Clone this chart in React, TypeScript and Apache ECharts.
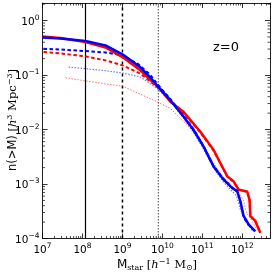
import React, { useEffect, useRef } from "react";
import * as echarts from "echarts";

// ---- data (stellar mass in h^-1 Msun, cumulative number density in h^3 Mpc^-3) ----
const massMin = 1e7;
const massMax = 4.9e12;
const nMin = 1e-4;
const nMax = 2.1;

const solidRed: [number, number][] = [
  [1e7, 0.51], [2.8e7, 0.48], [1.19e8, 0.405], [3.76e8, 0.32], [1e9, 0.214],
  [2.8e9, 0.122], [7.9e9, 0.0597], [1.58e10, 0.0323], [3.4e10, 0.0209],
  [8.9e10, 0.0091], [1.9e11, 0.00423], [3.1e11, 0.0021], [4.2e11, 0.00138],
  [6e11, 0.00112], [8.1e11, 0.000785], [1.32e12, 0.00073], [1.51e12, 0.00051],
  [1.58e12, 0.000257], [2.1e12, 0.00021], [2.8e12, 0.000127],
];
const solidBlue: [number, number][] = [
  [1e7, 0.49], [2.8e7, 0.47], [1.19e8, 0.42], [3.76e8, 0.35], [1e9, 0.24],
  [2.8e9, 0.139], [5e9, 0.09], [7.9e9, 0.0605], [1.58e10, 0.0346], [3.4e10, 0.0171],
  [6e10, 0.0098], [1.07e11, 0.00485], [1.9e11, 0.0021], [3.4e11, 0.0012],
  [5.5e11, 0.00085], [7.4e11, 0.00074], [8.9e11, 0.00048], [1.07e12, 0.00026],
  [1.45e12, 0.00018], [2.1e12, 0.000135],
];
const dashedRed: [number, number][] = [
  [1.06e7, 0.264], [2.8e7, 0.25], [1.19e8, 0.22], [3.76e8, 0.186], [1e9, 0.151],
  [2.8e9, 0.106], [7.4e9, 0.0605], [1.58e10, 0.0346], [3.4e10, 0.02],
  [8.9e10, 0.0088], [1.9e11, 0.0041], [3.1e11, 0.0021], [4.2e11, 0.00136],
  [6e11, 0.0011], [8.1e11, 0.00078], [1.32e12, 0.00072], [1.51e12, 0.0005],
  [1.58e12, 0.00026], [2.1e12, 0.00021], [2.8e12, 0.000127],
];
const dashedBlue: [number, number][] = [
  [1.06e7, 0.304], [2.8e7, 0.295], [1.19e8, 0.275], [3.76e8, 0.26], [1e9, 0.23],
  [2.5e9, 0.158], [5e9, 0.1], [7.9e9, 0.065], [1.58e10, 0.036], [3.35e10, 0.0177],
  [5.96e10, 0.0102], [1.06e11, 0.005], [1.88e11, 0.00215], [3.35e11, 0.00125],
  [5.6e11, 0.00085], [7.5e11, 0.00072], [8.9e11, 0.00048], [1.06e12, 0.00025],
  [1.41e12, 0.00018], [2.1e12, 0.000135],
];
const dottedRed: [number, number][] = [
  [3.76e7, 0.089], [1.19e8, 0.078], [3.76e8, 0.069], [1e9, 0.0623], [2.8e9, 0.0446],
  [7.4e9, 0.0322], [1.58e10, 0.0244], [2.8e10, 0.016], [5e10, 0.0107],
  [8.9e10, 0.0065], [1.58e11, 0.003], [2.8e11, 0.00154], [5e11, 0.001],
  [7.5e11, 0.00072], [1.06e12, 0.00051], [1.26e12, 0.0003], [1.78e12, 0.000204],
  [2.37e12, 0.000141],
];
const dottedBlue: [number, number][] = [
  [4.5e7, 0.14], [1.19e8, 0.131], [3.76e8, 0.12], [1e9, 0.109], [2.8e9, 0.092],
  [7.4e9, 0.0566], [1.58e10, 0.033], [3.35e10, 0.0162], [5.96e10, 0.009],
  [1.06e11, 0.0044], [1.88e11, 0.002], [3.16e11, 0.00115], [5e11, 0.00079],
  [7.1e11, 0.00061], [8.9e11, 0.00034], [1.19e12, 0.000204], [1.78e12, 0.000141],
];
// vertical reference masses: solid, dashed, dotted
const limitMasses = [1.19e8, 1e9, 7.9e9];
const xDecades = [7, 8, 9, 10, 11, 12];
const yDecades = [-4, -3, -2, -1, 0];
const redshiftLabel = "z=0";
const xTitle = "{m|M}{sub|star}{t| [}{i|h}{sup|−1}{t| M}{sub|⊙}{t|]}";
const yTitle = "{a|n(>M) }{t|[}{i|h}{sup|3}{t| Mpc}{sup|−3}{t|]}";

const minorX: number[] = [];
xDecades.forEach((e) => { for (let k = 2; k <= 9; k++) { const v = k * Math.pow(10, e); if (v < massMax) minorX.push(v); } });
const minorY: number[] = [];
yDecades.forEach((e) => { for (let k = 2; k <= 9; k++) { const v = k * Math.pow(10, e); if (v < nMax) minorY.push(v); } });

function supLabel(v: number): string {
  const l = Math.log10(v);
  const e = Math.round(l);
  if (Math.abs(l - e) > 1e-6) return "";
  return `{a|10}{s|${e < 0 ? "−" + -e : e}}`;
}

const tickRich = {
  a: { fontSize: 10.5, fontFamily: "DejaVu Sans", color: "#000", lineHeight: 15 },
  s: { fontSize: 7.5, fontFamily: "DejaVu Sans", color: "#000", verticalAlign: "top", lineHeight: 9 },
};

const titleRich = {
  m: { fontSize: 12, fontFamily: "DejaVu Sans", fill: "#000", lineHeight: 14 },
  a: { fontSize: 11.5, fontFamily: "DejaVu Sans", fill: "#000", lineHeight: 14 },
  sub: { fontSize: 8, fontFamily: "DejaVu Serif", fill: "#000", verticalAlign: "bottom", lineHeight: 11 },
  t: { fontSize: 11.5, fontFamily: "DejaVu Serif", fill: "#000", lineHeight: 14 },
  i: { fontSize: 11.5, fontFamily: "DejaVu Serif", fontStyle: "italic", fill: "#000", lineHeight: 14 },
  sup: { fontSize: 8, fontFamily: "DejaVu Serif", fill: "#000", verticalAlign: "top", lineHeight: 9 },
};

export default function App() {
  const ref = useRef<HTMLDivElement>(null);
  useEffect(() => {
    if (!ref.current) return;
    const chart = echarts.init(ref.current, undefined, { renderer: "svg" });
    const axisLine = { show: true, lineStyle: { color: "#222", width: 1 } };
    const lineSeries = (data: [number, number][], color: string, width: number, type: any, opacity = 1) => ({
      type: "line",
      data,
      symbol: "none",
      showSymbol: false,
      silent: true,
      lineStyle: { color, width, type, opacity },
    });
    const vline = (m: number, color: string, width: number, type: any) => ({
      type: "line",
      data: [[m, nMin], [m, nMax]],
      symbol: "none",
      silent: true,
      lineStyle: { color, width, type },
    });
    chart.setOption({
      animation: false,
      grid: { left: 42.5, right: 4, top: 3, bottom: 34.5, outerBoundsMode: "none", containLabel: false },
      xAxis: [
        {
          type: "log", min: massMin, max: massMax, position: "bottom",
          axisLine, splitLine: { show: false },
          axisTick: { inside: true, length: 5, lineStyle: { color: "#000", width: 0.8 } },
          axisLabel: { formatter: supLabel, rich: tickRich, margin: 3, showMinLabel: true, showMaxLabel: false },
        },
        {
          type: "log", min: massMin, max: massMax, position: "top",
          axisLine, splitLine: { show: false },
          axisTick: { inside: true, length: 5, lineStyle: { color: "#000", width: 0.8 } },
          axisLabel: { show: false },
        },
      ],
      yAxis: [
        {
          type: "log", min: nMin, max: nMax, position: "left",
          axisLine, splitLine: { show: false },
          axisTick: { inside: true, length: 5, lineStyle: { color: "#000", width: 0.8 } },
          axisLabel: { formatter: supLabel, rich: tickRich, margin: 3, showMaxLabel: false },
        },
        {
          type: "log", min: nMin, max: nMax, position: "right",
          axisLine, splitLine: { show: false },
          axisTick: { inside: true, length: 5, lineStyle: { color: "#000", width: 0.8 } },
          axisLabel: { show: false },
        },
      ],
      graphic: [
        {
          type: "text", left: 213, top: 40,
          style: { text: redshiftLabel, fontSize: 13, fontFamily: "DejaVu Sans", fill: "#000" },
        },
        {
          type: "text", x: 157, y: 264,
          style: { text: xTitle, rich: titleRich, align: "center", verticalAlign: "middle" },
        },
        {
          type: "text", x: 12, y: 120, rotation: Math.PI / 2,
          style: { text: yTitle, rich: titleRich, align: "center", verticalAlign: "middle" },
        },
      ],
      series: [
        {
          type: "custom", coordinateSystem: "cartesian2d", silent: true, clip: false,
          data: minorX.map((v) => [v, nMin]),
          renderItem: (_p: any, api: any) => {
            const v = api.value(0);
            const b = api.coord([v, nMin]);
            const t = api.coord([v, nMax]);
            return {
              type: "group",
              children: [
                { type: "line", shape: { x1: b[0], y1: b[1], x2: b[0], y2: b[1] - 2.5 }, style: { stroke: "#000", lineWidth: 0.7 } },
                { type: "line", shape: { x1: t[0], y1: t[1], x2: t[0], y2: t[1] + 2.5 }, style: { stroke: "#000", lineWidth: 0.7 } },
              ],
            };
          },
        },
        {
          type: "custom", coordinateSystem: "cartesian2d", silent: true, clip: false,
          data: minorY.map((v) => [massMin, v]),
          renderItem: (_p: any, api: any) => {
            const v = api.value(1);
            const l = api.coord([massMin, v]);
            const r = api.coord([massMax, v]);
            return {
              type: "group",
              children: [
                { type: "line", shape: { x1: l[0], y1: l[1], x2: l[0] + 2.5, y2: l[1] }, style: { stroke: "#000", lineWidth: 0.7 } },
                { type: "line", shape: { x1: r[0], y1: r[1], x2: r[0] - 2.5, y2: r[1] }, style: { stroke: "#000", lineWidth: 0.7 } },
              ],
            };
          },
        },
        vline(limitMasses[0], "#000", 1.2, "solid"),
        vline(limitMasses[1], "#000", 1.5, [3, 3]),
        vline(limitMasses[2], "#666", 1.2, [1.5, 1.5]),
        lineSeries(dottedRed, "#ff0000", 1, [1.5, 1.5], 0.55),
        lineSeries(dottedBlue, "#0000ff", 1.2, [1.5, 1.5], 0.55),
        lineSeries(dashedRed, "#ff0000", 2, [3.5, 2.5]),
        lineSeries(dashedBlue, "#0000ff", 2, [3.5, 2.5]),
        lineSeries(solidRed, "#ff0000", 2.5, "solid"),
        lineSeries(solidBlue, "#0000ff", 2.5, "solid"),
      ],
    });
    return () => chart.dispose();
  }, []);
  return <div ref={ref} style={{ position: "fixed", left: 0, top: 0, width: 274, height: 273 }} />;
}
